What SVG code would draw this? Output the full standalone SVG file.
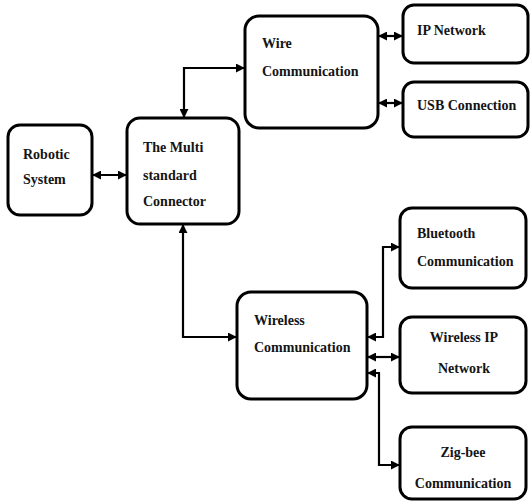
<svg xmlns="http://www.w3.org/2000/svg" width="532" height="501" viewBox="0 0 532 501">
  <style>
    .box { fill: #fff; stroke: #000; stroke-width: 3; }
    .lbl { font-family: "Liberation Serif", "DejaVu Serif", serif; font-weight: bold; font-size: 14px; fill: #141414; }
    .mid { text-anchor: middle; }
    .wire { fill: none; stroke: #000; stroke-width: 2.2; }
  </style>
  <defs>
    <marker id="ah" viewBox="0 0 10 10" refX="9" refY="5" markerWidth="9" markerHeight="9" markerUnits="userSpaceOnUse" orient="auto-start-reverse">
      <path d="M0,0 L10,5 L0,10 Z" fill="#000"/>
    </marker>
  </defs>
  <rect width="532" height="501" fill="#fff"/>

  <g id="connectors">
    <!-- robotic system <-> connector -->
    <path class="wire" d="M93,175 H126" marker-start="url(#ah)" marker-end="url(#ah)"/>
    <!-- connector <-> wire communication -->
    <path class="wire" d="M184,117 V68 H244" marker-start="url(#ah)" marker-end="url(#ah)"/>
    <!-- wire communication <-> IP network / USB -->
    <path class="wire" d="M379,36 H402" marker-start="url(#ah)" marker-end="url(#ah)"/>
    <path class="wire" d="M379,103 H402" marker-start="url(#ah)" marker-end="url(#ah)"/>
    <!-- connector <-> wireless communication -->
    <path class="wire" d="M183,225 V337 H236" marker-start="url(#ah)" marker-end="url(#ah)"/>
    <!-- wireless communication <-> bluetooth -->
    <path class="wire" d="M368,337 H383 V247 H399" marker-start="url(#ah)" marker-end="url(#ah)"/>
    <!-- wireless communication <-> wireless IP -->
    <path class="wire" d="M368,357 H399" marker-start="url(#ah)" marker-end="url(#ah)"/>
    <!-- wireless communication <-> zig-bee -->
    <path class="wire" d="M368,373 H379 V465 H399" marker-start="url(#ah)" marker-end="url(#ah)"/>
  </g>

  <g id="robotic-system">
    <rect class="box" x="8" y="125" width="84" height="90" rx="12"/>
    <text class="lbl" x="23" y="159">Robotic</text>
    <text class="lbl" x="23" y="184">System</text>
  </g>

  <g id="multi-standard-connector">
    <rect class="box" x="127" y="118" width="112" height="106" rx="13"/>
    <text class="lbl" x="143" y="152">The Multi</text>
    <text class="lbl" x="143" y="180">standard</text>
    <text class="lbl" x="143" y="206">Connector</text>
  </g>

  <g id="wire-communication">
    <rect class="box" x="245" y="16" width="133" height="112" rx="14"/>
    <text class="lbl" x="262" y="48">Wire</text>
    <text class="lbl" x="262" y="76">Communication</text>
  </g>

  <g id="ip-network">
    <rect class="box" x="403" y="5" width="125" height="58" rx="11"/>
    <text class="lbl" x="417" y="35">IP Network</text>
  </g>

  <g id="usb-connection">
    <rect class="box" x="403" y="82" width="125" height="55" rx="11"/>
    <text class="lbl" x="417" y="110">USB Connection</text>
  </g>

  <g id="wireless-communication">
    <rect class="box" x="237" y="292" width="130" height="107" rx="14"/>
    <text class="lbl" x="254" y="325">Wireless</text>
    <text class="lbl" x="254" y="352">Communication</text>
  </g>

  <g id="bluetooth-communication">
    <rect class="box" x="400" y="208" width="126" height="80" rx="12"/>
    <text class="lbl" x="417" y="238">Bluetooth</text>
    <text class="lbl" x="417" y="266">Communication</text>
  </g>

  <g id="wireless-ip-network">
    <rect class="box" x="400" y="317" width="126" height="76" rx="12"/>
    <text class="lbl mid" x="464" y="342">Wireless IP</text>
    <text class="lbl mid" x="464" y="373">Network</text>
  </g>

  <g id="zig-bee-communication">
    <rect class="box" x="400" y="427" width="126" height="72" rx="12"/>
    <text class="lbl mid" x="463" y="457">Zig-bee</text>
    <text class="lbl mid" x="463" y="488">Communication</text>
  </g>
</svg>
